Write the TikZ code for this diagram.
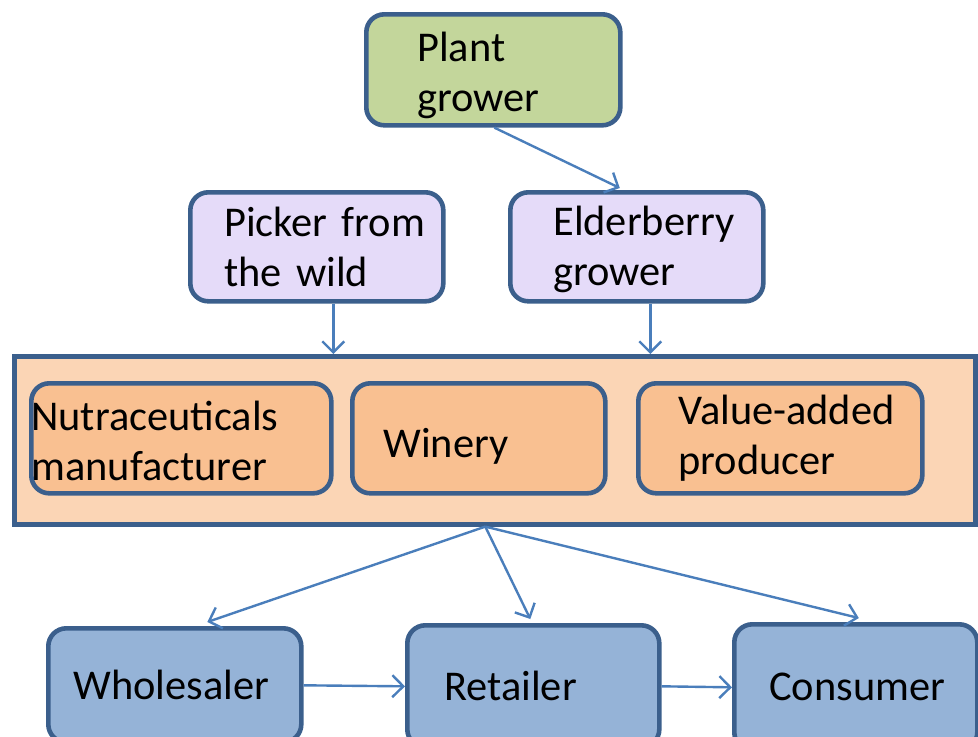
\documentclass[tikz,border=0pt]{standalone}
\usepackage{fontspec}
\setmainfont{Carlito}
\usepackage{tikz}
\usetikzlibrary{arrows.meta,positioning,calc}

\begin{document}
\begin{tikzpicture}[x=0.5pt, y=-0.5pt,
    box/.style={draw=edgecolor, line width=2.3pt, rounded corners=9pt, anchor=north west,
        align=left, inner ysep=0pt, font=\fontsize{21.2}{25}\selectfont},
    link/.style={draw=linkcolor, line width=1.2pt, -{Straight Barb[length=5.5pt,width=11pt]}}]

% Define colors
\definecolor{edgecolor}{RGB}{59,95,140}
\definecolor{linkcolor}{RGB}{74,126,187}
\definecolor{growcolor}{RGB}{195,214,155}
\definecolor{pickcolor}{RGB}{229,219,249}
\definecolor{procouter}{RGB}{251,213,181}
\definecolor{procinner}{RGB}{249,192,145}
\definecolor{salecolor}{RGB}{149,179,215}

\useasboundingbox (0,0) rectangle (978,736);
\clip (0,0) rectangle (978,736);

% Growers
\node[box, fill=growcolor, inner xsep=25.5pt, text width=76pt, minimum height=55.5pt]
    (plant) at (364,12) {\rule{0pt}{20pt}Plant\\grower};
\node[box, fill=pickcolor, inner xsep=17pt, text width=92.5pt, minimum height=54.5pt]
    (picker) at (188,190) {Picker~from\\the wild};
\node[box, fill=pickcolor, inner xsep=21.5pt, text width=83.5pt, minimum height=54.5pt]
    (elder) at (508,190) {\rule{0pt}{17.5pt}Elderberry\\grower};

% Processors
\node[draw=edgecolor, line width=2.3pt, fill=procouter, anchor=north west,
    minimum width=480.5pt, minimum height=84pt] (proc) at (12,354) {};
\node[box, fill=procinner, inner xsep=0pt, text width=150pt, minimum height=55pt]
    (nutra) at (29,381) {\rule{0pt}{17pt}Nutraceuticals\\manufacturer};
\node[box, fill=procinner, inner xsep=15.5pt, text width=95.5pt, minimum height=55pt]
    (winery) at (350,381) {\rule{0pt}{23pt}Winery};
\node[box, fill=procinner, inner xsep=20pt, text width=102pt, minimum height=55pt]
    (valadd) at (636,381) {\mbox{Value-added}\\producer};

% Sales
\node[box, fill=salecolor, inner xsep=12.5pt, text width=101.5pt, minimum height=57pt]
    (whole) at (46,626) {Wholesaler};
\node[box, fill=salecolor, inner xsep=18.5pt, text width=89pt, minimum height=61pt]
    (retail) at (405,623) {Retailer};
\node[box, fill=salecolor, inner xsep=17.5pt, text width=86.5pt, minimum height=63pt]
    (consumer) at (732,622) {Consumer};

% Connectors
\draw[link] ($(plant.south)+(1,0)$) -- ($(elder.north)+(-17,-2)$);
\coordinate (pickfoot) at ($(picker.south)+(16.5,0)$);
\coordinate (elderfoot) at ($(elder.south)+(13.5,0)$);
\draw[link] (pickfoot) -- (pickfoot |- proc.north);
\draw[link] (elderfoot) -- (elderfoot |- proc.north);
\coordinate (apex) at ($(proc.south)+(-9.5,0)$);
\draw[link] (apex) -- ($(whole.north)+(32.5,-4)$);
\draw[link] (apex) -- ($(retail.north)+(-3,-4)$);
\draw[link] (apex) -- ($(consumer.north)+(3,-4)$);
\draw[link] (whole.east) -- (retail.west);
\draw[link] (retail.east) -- (consumer.west);

\end{tikzpicture}
\end{document}
